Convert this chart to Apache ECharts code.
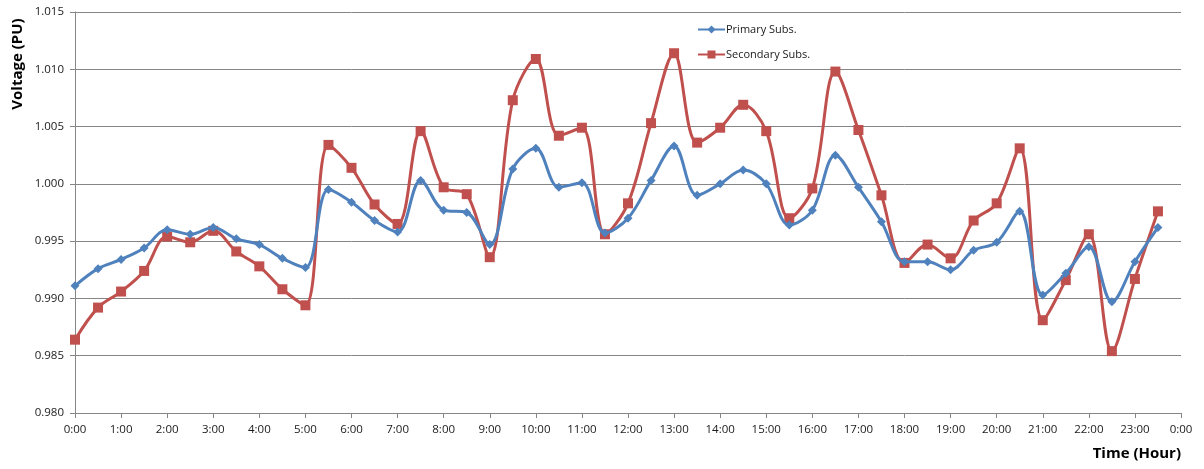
<!DOCTYPE html>
<html>
<head>
<meta charset="utf-8">
<script src="https://cdn.jsdelivr.net/npm/echarts@6/dist/echarts.min.js"></script>
<style>
  html, body { margin: 0; padding: 0; background: #fff; }
  #chart { width: 1204px; height: 469px; }
</style>
</head>
<body>
<div id="chart"></div>
<script>
// Half-hourly sample times over one day
const times = [
  '0:00','0:30','1:00','1:30','2:00','2:30','3:00','3:30','4:00','4:30','5:00','5:30',
  '6:00','6:30','7:00','7:30','8:00','8:30','9:00','9:30','10:00','10:30','11:00','11:30',
  '12:00','12:30','13:00','13:30','14:00','14:30','15:00','15:30','16:00','16:30','17:00','17:30',
  '18:00','18:30','19:00','19:30','20:00','20:30','21:00','21:30','22:00','22:30','23:00','23:30'
];

// Voltage at the primary substation (per unit)
const primarySubs = [
  0.9911, 0.9926, 0.9934, 0.9944, 0.9960, 0.9956, 0.9962, 0.9952, 0.9947, 0.9935, 0.9927, 0.9995,
  0.9984, 0.9968, 0.9958, 1.0003, 0.9977, 0.9975, 0.9947, 1.0013, 1.0031, 0.9997, 1.0001, 0.9957,
  0.9970, 1.0003, 1.0033, 0.9990, 1.0000, 1.0012, 1.0000, 0.9964, 0.9977, 1.0025, 0.9997, 0.9967,
  0.9932, 0.9932, 0.9925, 0.9942, 0.9949, 0.9976, 0.9903, 0.9922, 0.9945, 0.9897, 0.9932, 0.9962
];

// Voltage at the secondary substation (per unit)
const secondarySubs = [
  0.9864, 0.9892, 0.9906, 0.9924, 0.9954, 0.9949, 0.9959, 0.9941, 0.9928, 0.9908, 0.9894, 1.0034,
  1.0014, 0.9982, 0.9965, 1.0046, 0.9997, 0.9991, 0.9936, 1.0073, 1.0109, 1.0042, 1.0049, 0.9956,
  0.9983, 1.0053, 1.0114, 1.0036, 1.0049, 1.0069, 1.0046, 0.9970, 0.9996, 1.0098, 1.0047, 0.9990,
  0.9931, 0.9947, 0.9935, 0.9968, 0.9983, 1.0031, 0.9881, 0.9916, 0.9956, 0.9854, 0.9917, 0.9976
];

// Axis ranges and tick labels
const yTicks = ['0.980','0.985','0.990','0.995','1.000','1.005','1.010','1.015'];
const xHourLabels = ['0:00','1:00','2:00','3:00','4:00','5:00','6:00','7:00','8:00','9:00','10:00','11:00',
  '12:00','13:00','14:00','15:00','16:00','17:00','18:00','19:00','20:00','21:00','22:00','23:00','0:00'];

function toHours(t) {
  const [h, m] = t.split(':').map(Number);
  return h + m / 60;
}
const pairs = vals => vals.map((v, i) => [toHours(times[i]), v]);

const font = '"Open Sans", "Liberation Sans", sans-serif';
const chart = echarts.init(document.getElementById('chart'), null, { renderer: 'canvas' });

chart.setOption({
  animation: false,
  backgroundColor: '#ffffff',
  grid: { left: 75, right: 23, top: 12, bottom: 56, containLabel: false },
  legend: {
    orient: 'vertical',
    left: 692,
    top: 19,
    itemWidth: 27,
    itemHeight: 10,
    itemGap: 14,
    textStyle: { fontFamily: font, fontSize: 11, color: '#1a1a1a', padding: [0, 0, 0, -4] },
    data: ['Primary Subs.', 'Secondary Subs.']
  },
  // Vertical axis title, placed toward the top of the axis
  graphic: [{
    type: 'text',
    x: 18,
    y: 64,
    rotation: Math.PI / 2,
    style: {
      text: 'Voltage (PU)',
      font: 'bold 15px ' + font,
      fill: '#000',
      textAlign: 'center',
      textVerticalAlign: 'middle'
    }
  }],
  xAxis: {
    type: 'value',
    min: 0,
    max: 24,
    interval: 1,
    name: 'Time (Hour)',
    nameLocation: 'end',
    nameGap: 0,
    nameTextStyle: {
      fontFamily: font, fontSize: 15, fontWeight: 'bold', color: '#000',
      align: 'right', verticalAlign: 'top', padding: [33, 0, 0, 0]
    },
    axisLine: { lineStyle: { color: '#868686', width: 1 } },
    axisTick: { show: true, length: 5, lineStyle: { color: '#868686' } },
    axisLabel: {
      fontFamily: font, fontSize: 11.5, color: '#1a1a1a', margin: 11,
      formatter: v => xHourLabels[Math.round(v)]
    },
    splitLine: { show: false }
  },
  yAxis: {
    type: 'value',
    min: 0.980,
    max: 1.015,
    interval: 0.005,
    axisLine: { show: true, lineStyle: { color: '#868686', width: 1 } },
    axisTick: { show: true, length: 5, lineStyle: { color: '#868686' } },
    axisLabel: {
      fontFamily: font, fontSize: 11.5, color: '#1a1a1a', margin: 11,
      formatter: v => yTicks[Math.round((v - 0.980) / 0.005)]
    },
    splitLine: { show: true, lineStyle: { color: '#868686', width: 1 } }
  },
  series: [
    {
      name: 'Primary Subs.',
      type: 'line',
      data: pairs(primarySubs),
      smooth: 0.35,
      symbol: 'diamond',
      symbolSize: 9,
      showAllSymbol: true,
      lineStyle: { color: '#4F81BD', width: 3 },
      itemStyle: { color: '#4F81BD' },
      z: 3
    },
    {
      name: 'Secondary Subs.',
      type: 'line',
      data: pairs(secondarySubs),
      smooth: 0.35,
      symbol: 'rect',
      symbolSize: 10,
      showAllSymbol: true,
      lineStyle: { color: '#C0504D', width: 3 },
      itemStyle: { color: '#C0504D' },
      z: 2
    }
  ]
});
</script>
</body>
</html>
